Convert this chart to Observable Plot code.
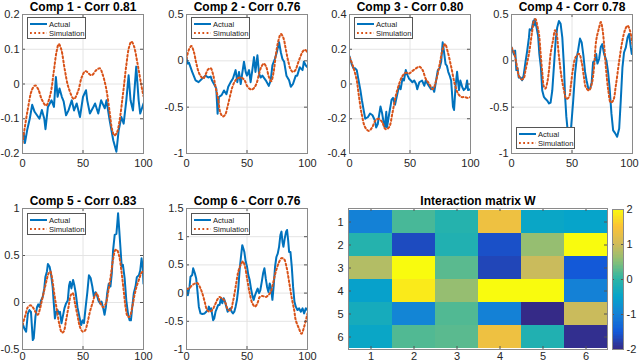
<!DOCTYPE html>
<html>
<head>
<meta charset="utf-8">
<script src="https://cdn.jsdelivr.net/npm/d3@7"></script>
<script src="https://cdn.jsdelivr.net/npm/@observablehq/plot@0.6"></script>
<style>
  body { margin: 0; background: #fff; }
  #chart { position: relative; width: 640px; height: 363px; overflow: hidden; background: #fff; font-family: "Liberation Sans", Arial, sans-serif; }
  .legend { position: absolute; background: #fff; border: 1px solid #555; box-sizing: border-box; }
</style>
</head>
<body>
<div id="chart"></div>
<script>
// ---------------- data ----------------
const xTicks = [0, 50, 100];
const titles = ["Comp 1 - Corr 0.81", "Comp 2 - Corr 0.76", "Comp 3 - Corr 0.80",
                "Comp 4 - Corr 0.78", "Comp 5 - Corr 0.83", "Comp 6 - Corr 0.76"];
const seriesNames = ["Actual", "Simulation"];
const yTicks1 = [-0.2, -0.1, 0, 0.1, 0.2];
const yTicks2 = [-1, -0.5, 0, 0.5];
const yTicks3 = [-0.4, -0.2, 0, 0.2, 0.4];
const yTicks4 = [-1, -0.5, 0, 0.5];
const yTicks5 = [-0.5, 0, 0.5, 1];
const yTicks6 = [-1, -0.5, 0, 0.5, 1, 1.5];

const comp1Actual = [[0,-0.16],[1,-0.14],[2,-0.17],[4,-0.13],[6,-0.1],[8,-0.06],[10,-0.08],[12,-0.09],[14,-0.1],[16,-0.075],[18,-0.1],[19,-0.13],[21,-0.066],[24,-0.047],[26,-0.066],[27.6,0.02],[29,-0.037],[30.6,-0.013],[32.5,-0.037],[34,-0.05],[36,-0.09],[38,-0.076],[40.7,-0.047],[42.6,-0.076],[44.8,-0.056],[47.5,-0.095],[50,-0.037],[52.5,-0.018],[53.5,-0.047],[55.7,-0.085],[58,-0.07],[60,-0.056],[62.6,-0.085],[65,-0.047],[68,-0.07],[69.4,-0.047],[72,-0.104],[75,-0.162],[77.6,-0.195],[79.5,-0.133],[81.7,-0.095],[83.6,-0.114],[85.8,-0.047],[87.7,0.025],[89.3,-0.047],[91.3,-0.076],[94,0.05],[96,-0.047],[97.3,-0.085],[100,-0.056]];
const comp1Sim = [[0,-0.17],[4,-0.08],[8,-0.015],[10.5,-0.004],[13,-0.015],[16,-0.045],[19.5,-0.062],[23,-0.03],[26,0.04],[28,0.09],[30,0.115],[32,0.1],[35,0.04],[38,-0.01],[42.5,-0.043],[46,-0.02],[49,0.02],[52,0.037],[57,0.025],[61,0.04],[64,0.045],[66,0.03],[69,-0.01],[72,-0.08],[74,-0.13],[76,-0.148],[78,-0.14],[80,-0.11],[83,-0.03],[86,0.06],[88,0.105],[90,0.122],[92,0.11],[95,0.06],[98,0.0],[100,-0.035]];

const comp2Actual = [[0,0.03],[1,-0.03],[2,-0.02],[4.7,-0.12],[7.5,-0.21],[10,-0.23],[13,-0.19],[15.7,-0.16],[18,-0.18],[20,-0.17],[21,-0.21],[23.5,-0.27],[24.6,-0.3],[25.7,-0.57],[26.8,-0.39],[29,-0.37],[31,-0.32],[33,-0.36],[34.5,-0.28],[36.5,-0.23],[38.4,-0.19],[40.6,-0.1],[42,-0.23],[43.4,-0.12],[44.8,-0.25],[46,-0.14],[47.5,-0.01],[48.9,-0.12],[50,-0.16],[51.7,-0.1],[53,-0.23],[54.4,-0.1],[55.8,0.04],[57,-0.12],[58.6,0.06],[60,-0.14],[61.3,-0.18],[62.7,-0.16],[65.5,-0.21],[68,-0.27],[69.6,-0.21],[71,-0.05],[73,0.02],[74.6,0.09],[76.5,0.2],[78,0.09],[79.3,0.02],[80.7,-0.01],[82.6,-0.16],[84.8,-0.21],[86.2,-0.28],[88,-0.25],[90.3,-0.16],[91.5,-0.16],[93.6,-0.07],[95.9,-0.1],[97,-0.01],[98.6,-0.05],[100,-0.07]];
const comp2Sim = [[0,0.02],[2,0.12],[4,0.16],[6,0.1],[8,-0.02],[10,-0.12],[12,-0.17],[14,-0.19],[16,-0.14],[18,-0.09],[20,-0.08],[22,-0.15],[24,-0.28],[26,-0.4],[28,-0.56],[30,-0.6],[32,-0.58],[34,-0.49],[36,-0.38],[38,-0.28],[40,-0.22],[42,-0.19],[45,-0.18],[48,-0.21],[50,-0.27],[52,-0.3],[54,-0.31],[56,-0.29],[58,-0.24],[60,-0.14],[62,-0.06],[64,-0.03],[66,-0.07],[68,-0.17],[70,-0.22],[72,-0.12],[74,0.08],[76,0.22],[78,0.29],[80,0.25],[82,0.13],[84,0.0],[86,-0.09],[88,-0.12],[90,-0.1],[92,-0.03],[94,0.04],[96,0.1],[98,0.12],[100,0.09]];

const comp3Actual = [[0,0.16],[2,0.11],[3.3,0.09],[4.7,0.09],[6,0.08],[7.5,0.02],[9,-0.035],[10.3,-0.095],[11.7,-0.15],[13,-0.2],[15.3,-0.19],[17,-0.17],[19,-0.18],[21,-0.21],[22,-0.25],[23.4,-0.23],[24,-0.2],[25.6,-0.13],[27,-0.17],[28.4,-0.23],[29.2,-0.25],[30.4,-0.16],[31,-0.25],[32.6,-0.18],[34.8,-0.09],[36,-0.08],[37.6,-0.12],[39.6,-0.055],[41,-0.01],[42.3,-0.03],[43.7,0.03],[45,0.02],[46.5,0.08],[48,0.05],[49.3,0.03],[50.7,0.02],[52,0.01],[53.5,0.02],[55,0.0],[56,-0.03],[57.7,0.01],[60,0.02],[61.8,-0.01],[63,0.02],[65.5,-0.01],[67.4,-0.03],[68.8,-0.02],[70,-0.045],[71.6,0.02],[73,0.08],[74.4,0.09],[75.8,0.13],[77,0.24],[78,0.19],[79.4,0.115],[80.5,0.105],[81.6,0.07],[82.7,0.05],[84,0.02],[85.5,-0.13],[86.4,-0.15],[87.7,-0.01],[88.9,0.07],[90.5,-0.035],[91.6,0.02],[93.3,-0.02],[94.4,-0.035],[96,-0.025],[97.2,0.02],[98,-0.035],[100,-0.03]];
const comp3Sim = [[0,0.155],[3,0.1],[6,0.02],[7.5,-0.055],[10,-0.17],[13,-0.25],[16,-0.27],[18.7,-0.25],[21.4,-0.21],[24,-0.2],[27,-0.22],[29.8,-0.26],[32.6,-0.25],[35.4,-0.17],[38,-0.075],[41,0.0],[43.7,0.045],[46.5,0.065],[49,0.06],[52,0.075],[55,0.09],[57.7,0.1],[60.4,0.08],[63,0.03],[66,0.0],[68.8,-0.03],[71.6,0.02],[74.4,0.11],[77,0.2],[79,0.23],[81,0.19],[84,0.1],[87,0.0],[89.7,-0.055],[92.5,-0.075],[95,-0.075],[98,-0.08],[100,-0.075]];

const comp4Actual = [[0,0.145],[2,0.07],[3,0.11],[3.5,0.02],[4,-0.1],[5,-0.08],[6,-0.18],[7.5,-0.18],[8.8,-0.21],[10,-0.16],[11.6,-0.01],[13,0.11],[14.4,0.25],[15,0.34],[16.6,0.33],[18,0.43],[18.5,0.38],[19,0.45],[20,0.4],[20.7,0.36],[22,0.27],[23,0.075],[24.3,-0.07],[25.4,-0.32],[26.8,-0.39],[28,-0.41],[29.6,-0.43],[31,-0.46],[32.3,-0.45],[33.7,-0.32],[35,-0.07],[36.5,0.22],[37.8,0.36],[39.2,0.43],[40.6,0.4],[42,0.25],[43.4,-0.07],[44.2,-0.36],[45.3,-0.6],[46.4,-0.75],[47.5,-0.8],[49,-0.76],[51,-0.43],[52.5,-0.14],[54,0.04],[55,0.11],[56.6,0.24],[58,0.2],[59.4,0.06],[60.8,-0.12],[62,-0.21],[63.5,-0.3],[65,-0.3],[66.3,-0.23],[67.4,-0.015],[68.8,0.0],[70,0.075],[71,-0.03],[72.4,0.02],[73.8,0.15],[75,0.18],[76.5,0.075],[78.5,0.0],[79.8,-0.12],[81,-0.28],[82.6,-0.57],[84,-0.75],[85.6,-0.78],[87.3,-0.82],[89,-0.73],[90.3,-0.43],[91.7,-0.07],[93,0.09],[94.5,0.145],[95.9,0.25],[97.2,0.29],[98.6,0.145],[99.4,0.075],[100,0.1]];
const comp4Sim = [[0,0.145],[2,0.09],[3.3,0.02],[4.7,-0.07],[6,-0.16],[8.3,-0.2],[10,-0.19],[11.6,-0.1],[14.4,0.075],[17,0.31],[18.5,0.43],[19.9,0.45],[21.3,0.38],[22.7,0.29],[24,0.09],[25.4,-0.12],[26.8,-0.28],[28,-0.3],[29.6,-0.23],[31,-0.1],[32.3,0.075],[34.3,0.22],[36,0.33],[37.3,0.29],[39,0.075],[41.4,-0.18],[43.4,-0.32],[45.3,-0.41],[47.5,-0.39],[49,-0.27],[51,-0.07],[53,0.04],[55.8,0.075],[58,-0.015],[60,-0.19],[61.3,-0.28],[64,-0.32],[66.3,-0.25],[68.2,-0.07],[70,0.22],[72.4,0.36],[73.8,0.42],[75,0.36],[76.5,0.18],[78,-0.07],[80,-0.32],[82,-0.45],[84,-0.43],[86.2,-0.27],[89,0.0],[91.7,0.22],[94,0.34],[95.9,0.38],[97.8,0.33],[100,0.18]];

const comp5Actual = [[0,-0.22],[1.6,-0.28],[3,-0.31],[4.4,-0.12],[5.7,-0.08],[7,-0.1],[8.5,-0.4],[9.3,-0.38],[10.7,-0.15],[12,-0.05],[13,-0.02],[14.2,-0.05],[15.3,0.02],[16.7,0.06],[18,0.15],[18.9,0.27],[20.2,0.33],[21,0.41],[22.4,0.38],[23.5,0.31],[24.9,0.17],[25.7,0.02],[26.8,-0.17],[27.9,-0.1],[29,-0.08],[30,-0.12],[31,-0.1],[32.2,-0.22],[33.3,-0.15],[34.7,-0.06],[36,-0.01],[37.4,0.02],[38.5,0.18],[39.3,0.22],[40.4,0.15],[41.8,0.24],[42.9,0.18],[44,0.1],[45.4,-0.05],[47,-0.15],[48.4,-0.24],[49.7,-0.19],[50.8,-0.22],[52.2,-0.05],[53.6,0.11],[54.9,0.29],[56.3,0.26],[57.7,0.17],[59,0.06],[60.4,0.11],[61.5,0.08],[62.8,0.02],[64.2,-0.01],[65.3,0.01],[66.7,-0.06],[67.8,-0.13],[68.9,-0.05],[70,0.1],[71.3,0.2],[72.7,0.17],[73.8,0.31],[74.9,0.56],[76.2,0.72],[77.6,0.73],[78.4,0.85],[79,0.95],[79.8,0.8],[80.9,0.59],[82,0.38],[83,0.4],[84.4,0.26],[85.8,0.02],[87.2,-0.12],[88.5,-0.19],[89.6,-0.19],[90.7,-0.05],[92,0.1],[93.4,0.17],[94.5,0.27],[96.2,0.29],[97.3,0.34],[98.4,0.47],[99.5,0.36],[100,0.2]];
const comp5Sim = [[0,-0.24],[2.5,-0.13],[4.4,-0.05],[6.6,-0.03],[8.5,-0.05],[10.7,-0.1],[12.6,-0.13],[14.2,-0.08],[16,0.02],[18.9,0.18],[21.6,0.31],[23,0.33],[24.3,0.27],[26.2,0.1],[28.4,-0.08],[30.6,-0.24],[32.5,-0.32],[34,-0.31],[36,-0.19],[38,-0.05],[40,0.08],[41.5,0.1],[43.4,-0.01],[45.6,-0.15],[47.5,-0.26],[49.7,-0.31],[51.6,-0.3],[53.6,-0.22],[55.7,-0.1],[58,0.0],[60,0.08],[61.2,0.1],[62.6,0.06],[64.5,-0.01],[66.7,-0.05],[68.9,-0.01],[70.8,0.11],[73,0.29],[75,0.47],[76.8,0.56],[78,0.56],[79.8,0.5],[81.7,0.34],[83.6,0.13],[85.2,-0.05],[87,-0.15],[88.5,-0.15],[90.7,-0.05],[92.6,0.08],[94.5,0.18],[96.7,0.26],[98,0.31],[100,0.34]];

const comp6Actual = [[0,0.08],[1.1,-0.04],[2.5,0.11],[3.3,0.29],[4.7,0.32],[5.5,0.44],[6.9,0.35],[8,0.26],[9.1,0.02],[10.2,-0.24],[11.6,-0.36],[13,-0.37],[15,-0.36],[16.3,-0.33],[17.7,-0.3],[18.5,-0.24],[19.3,-0.3],[20.4,-0.27],[21.3,-0.39],[22,-0.48],[22.9,-0.45],[24,-0.33],[25.1,-0.27],[26.2,-0.21],[27.3,-0.21],[28.5,-0.09],[29.6,-0.18],[30.7,-0.09],[31.8,-0.15],[32.9,-0.24],[34,-0.33],[35,-0.3],[36.2,-0.27],[37.3,-0.33],[38.4,-0.36],[39.5,-0.33],[40.6,-0.24],[41.7,-0.12],[42.8,0.08],[43.9,0.41],[45,0.64],[46.1,0.85],[47,0.79],[47.8,0.73],[48.9,0.56],[50,0.47],[51.1,0.32],[52.2,0.23],[53.3,0.08],[54.4,-0.04],[55.5,-0.12],[56.6,-0.04],[57.7,0.02],[58.8,0.08],[60,0.0],[61,0.05],[62.2,0.2],[63.3,0.35],[64.4,0.44],[65.5,0.26],[66.6,0.11],[67.7,0.02],[68.8,0.17],[69.9,0.08],[71,-0.12],[72.1,0.14],[73.2,0.47],[74.3,0.64],[75.4,0.7],[76.5,0.82],[77.6,1.03],[78.5,1.09],[79.3,0.91],[80.1,0.82],[81.2,0.97],[82.3,1.09],[83.1,1.12],[84,0.94],[84.8,0.73],[85.9,0.73],[87,0.47],[88.1,0.11],[89.2,-0.15],[90.3,-0.24],[91.7,-0.3],[93,-0.27],[94.5,-0.33],[95.9,-0.27],[97.2,-0.36],[98.6,-0.27],[100,-0.3]];
const comp6Sim = [[0,0.08],[2,0.08],[4.7,0.14],[6.9,0.17],[8.8,0.18],[11,0.11],[13,0.0],[15,-0.15],[17,-0.3],[19,-0.33],[21.3,-0.3],[23.5,-0.21],[25.4,-0.12],[27.3,-0.07],[29,-0.09],[31,-0.12],[32.3,-0.18],[34.5,-0.3],[36.5,-0.3],[38.4,-0.15],[40.6,0.11],[42.8,0.38],[44.8,0.5],[46.7,0.56],[48.3,0.47],[50.3,0.23],[52.2,0.0],[54.4,-0.18],[56.6,-0.24],[58.6,-0.18],[60.5,-0.07],[62.7,-0.05],[65.5,-0.07],[67.4,-0.04],[69.6,0.02],[71.5,0.17],[73.8,0.38],[76.5,0.55],[78.5,0.62],[80.7,0.6],[82.6,0.47],[84.8,0.2],[87,-0.09],[89,-0.3],[90.3,-0.48],[93,-0.63],[95,-0.72],[97.2,-0.6],[100,-0.36]];

// Interaction matrix W (rows 1..6, columns 1..6)
const matrixIdx = [1, 2, 3, 4, 5, 6];
const W = [
  [-1.0,  0.15, -0.1,  1.35, -0.45, -0.5],
  [-0.1, -1.65, -0.15, -1.6,  0.6,   2.0],
  [ 0.8,  2.0,   0.25, -1.7,  0.95, -1.5],
  [-0.55, 1.85,  0.6,   2.0,  2.0,  -1.0],
  [-0.3, -0.95,  0.2,  -1.0, -2.0,   0.95],
  [-0.45, 0.2,   0.25,  1.35, -0.15, -1.95]
];
const colorTicks = [-2, -1, 0, 1, 2];

// ---------------- styles ----------------
const BLUE = "#0072BD", ORANGE = "#D95319";
const DASH = "1.8,2.4";
const FRAME = "#8a8a8a", GRID = "#e4e4e4", TICK = "#555";
const FONT = "'Liberation Sans', Arial, sans-serif";
const parula = ["#352a87","#1359d8","#1481d6","#06a4ca","#2db5a6","#87bf77","#d1bb59","#fbc336","#f9fb0e"];
const colorScale = {type: "linear", domain: parula.map((_, i) => -2 + 4 * i / (parula.length - 1)), range: parula, clamp: true};

const chart = document.getElementById("chart");
const mL = 40, mR = 14, mT = 24, mB = 24;

function place(svg, left, top) {
  svg.style.position = "absolute";
  svg.style.left = (left - mL) + "px";
  svg.style.top = (top - mT) + "px";
  chart.appendChild(svg);
}

function innerTicks(xt, yt, w, h) {
  return [
    Plot.tickX(xt, {x: d => d, stroke: TICK, insetTop: h - 3}),
    Plot.tickX(xt, {x: d => d, stroke: TICK, insetBottom: h - 3}),
    Plot.tickY(yt, {y: d => d, stroke: TICK, insetRight: w - 3}),
    Plot.tickY(yt, {y: d => d, stroke: TICK, insetLeft: w - 3})
  ];
}

function legendBox(left, top) {
  const div = document.createElement("div");
  div.className = "legend";
  div.style.left = left + "px";
  div.style.top = top + "px";
  div.style.width = "59px";
  div.style.height = "22px";
  div.innerHTML = `<svg width="57" height="20" style="display:block">
    <line x1="2" x2="19" y1="6" y2="6" stroke="${BLUE}" stroke-width="2"/>
    <line x1="2" x2="19" y1="15" y2="15" stroke="${ORANGE}" stroke-width="2" stroke-dasharray="${DASH}"/>
    <text x="21" y="8.7" font-size="7.6" font-family="${FONT}" fill="#222">${seriesNames[0]}</text>
    <text x="21" y="17.7" font-size="7.6" font-family="${FONT}" fill="#222">${seriesNames[1]}</text>
  </svg>`;
  chart.appendChild(div);
}

function linePanel(actual, sim, yTicks, title, left, top, w, h, xPad, lastDx = 0) {
  const svg = Plot.plot({
    width: mL + w + mR, height: mT + h + mB,
    marginLeft: mL, marginRight: mR, marginTop: mT, marginBottom: mB,
    style: {fontFamily: FONT, fontSize: "11px", color: "#262626", background: "transparent", overflow: "visible"},
    x: {domain: [0, 100], axis: null},
    y: {domain: [yTicks[0], yTicks[yTicks.length - 1]], axis: null},
    marks: [
      Plot.gridX(xTicks, {stroke: GRID, strokeOpacity: 1}),
      Plot.gridY(yTicks, {stroke: GRID, strokeOpacity: 1}),
      Plot.line(actual, {x: d => d[0], y: d => d[1], stroke: BLUE, strokeWidth: 2, clip: true}),
      Plot.line(sim, {x: d => d[0], y: d => d[1], stroke: ORANGE, strokeWidth: 2, strokeDasharray: DASH, curve: "catmull-rom", clip: true}),
      ...innerTicks(xTicks, yTicks, w, h),
      Plot.frame({stroke: FRAME}),
      Plot.axisX(xTicks.slice(0, -1), {tickSize: 0, tickPadding: xPad, tickFormat: d => String(d), label: null, fill: "#262626"}),
      Plot.axisX(xTicks.slice(-1), {tickSize: 0, tickPadding: xPad, tickFormat: d => String(d), label: null, fill: "#262626", dx: lastDx}),
      Plot.axisY(yTicks, {tickSize: 0, tickPadding: 3, tickFormat: d => String(d), label: null, fill: "#262626"}),
      Plot.text([title], {frameAnchor: "top", dy: -4, lineAnchor: "bottom", fontWeight: "bold", fontSize: 12, fill: "#000"})
    ]
  });
  place(svg, left, top);
}

// ---------------- panels ----------------
const topY = 14, topH = 139, botY = 208, botH = 141, pw = 121;
linePanel(comp1Actual, comp1Sim, yTicks1, titles[0], 22, topY, pw, topH, 6);
linePanel(comp2Actual, comp2Sim, yTicks2, titles[1], 186, topY, pw, topH, 6);
linePanel(comp3Actual, comp3Sim, yTicks3, titles[2], 349, topY, pw, topH, 6);
linePanel(comp4Actual, comp4Sim, yTicks4, titles[3], 511, topY, pw, topH, 6, -3);
linePanel(comp5Actual, comp5Sim, yTicks5, titles[4], 22, botY, pw, botH, 3);
linePanel(comp6Actual, comp6Sim, yTicks6, titles[5], 186, botY, pw, botH, 3);

legendBox(27, 17);
legendBox(191, 17);
legendBox(354, 17);
legendBox(516, 127);
legendBox(27, 213);
legendBox(191, 213);

// ---------------- heatmap ----------------
const cells = [];
W.forEach((row, i) => row.forEach((v, j) => cells.push({row: matrixIdx[i], col: matrixIdx[j], v})));
const hmW = 259, hmH = 141;
const hm = Plot.plot({
  width: mL + hmW + mR, height: mT + hmH + mB,
  marginLeft: mL, marginRight: mR, marginTop: mT, marginBottom: mB,
  style: {fontFamily: FONT, fontSize: "11px", color: "#262626", background: "transparent", overflow: "visible"},
  x: {domain: matrixIdx, padding: 0, axis: null},
  y: {domain: matrixIdx, padding: 0, axis: null},
  color: colorScale,
  marks: [
    Plot.cell(cells, {x: "col", y: "row", fill: "v", inset: 0, shapeRendering: "crispEdges"}),
    Plot.tickX(matrixIdx, {x: d => d, stroke: TICK, insetTop: hmH - 3}),
    Plot.tickX(matrixIdx, {x: d => d, stroke: TICK, insetBottom: hmH - 3}),
    Plot.tickY(matrixIdx, {y: d => d, stroke: TICK, insetRight: hmW - 3}),
    Plot.tickY(matrixIdx, {y: d => d, stroke: TICK, insetLeft: hmW - 3}),
    Plot.frame({stroke: FRAME}),
    Plot.axisX(matrixIdx, {tickSize: 0, tickPadding: 3, label: null, fill: "#262626"}),
    Plot.axisY(matrixIdx, {tickSize: 0, tickPadding: 5, label: null, fill: "#262626"}),
    Plot.text(["Interaction matrix W"], {frameAnchor: "top", dy: -4, lineAnchor: "bottom", fontWeight: "bold", fontSize: 12, fill: "#000"})
  ]
});
place(hm, 348, botY);

// ---------------- colorbar ----------------
const cbW = 11, cbH = 140, cbStep = 0.04;
const cbSteps = d3.range(-2, 2, cbStep);
const cb = Plot.plot({
  width: mL + cbW + mR + 10, height: mT + cbH + mB,
  marginLeft: mL, marginRight: mR + 10, marginTop: mT, marginBottom: mB,
  style: {fontFamily: FONT, fontSize: "11px", color: "#262626", background: "transparent", overflow: "visible"},
  x: {domain: [0, 1], axis: null},
  y: {domain: [-2, 2], axis: null},
  color: colorScale,
  marks: [
    Plot.rect(cbSteps, {x1: 0, x2: 1, y1: d => d, y2: d => d + cbStep, fill: d => d + cbStep / 2, shapeRendering: "crispEdges"}),
    Plot.tickY(colorTicks, {y: d => d, stroke: TICK, insetLeft: cbW - 2}),
    Plot.tickY(colorTicks, {y: d => d, stroke: TICK, insetRight: cbW - 2}),
    Plot.frame({stroke: FRAME}),
    Plot.axisY(colorTicks, {anchor: "right", tickSize: 0, tickPadding: 3, tickFormat: d => String(d), label: null, fill: "#262626"})
  ]
});
place(cb, 612, 209);
</script>
</body>
</html>
